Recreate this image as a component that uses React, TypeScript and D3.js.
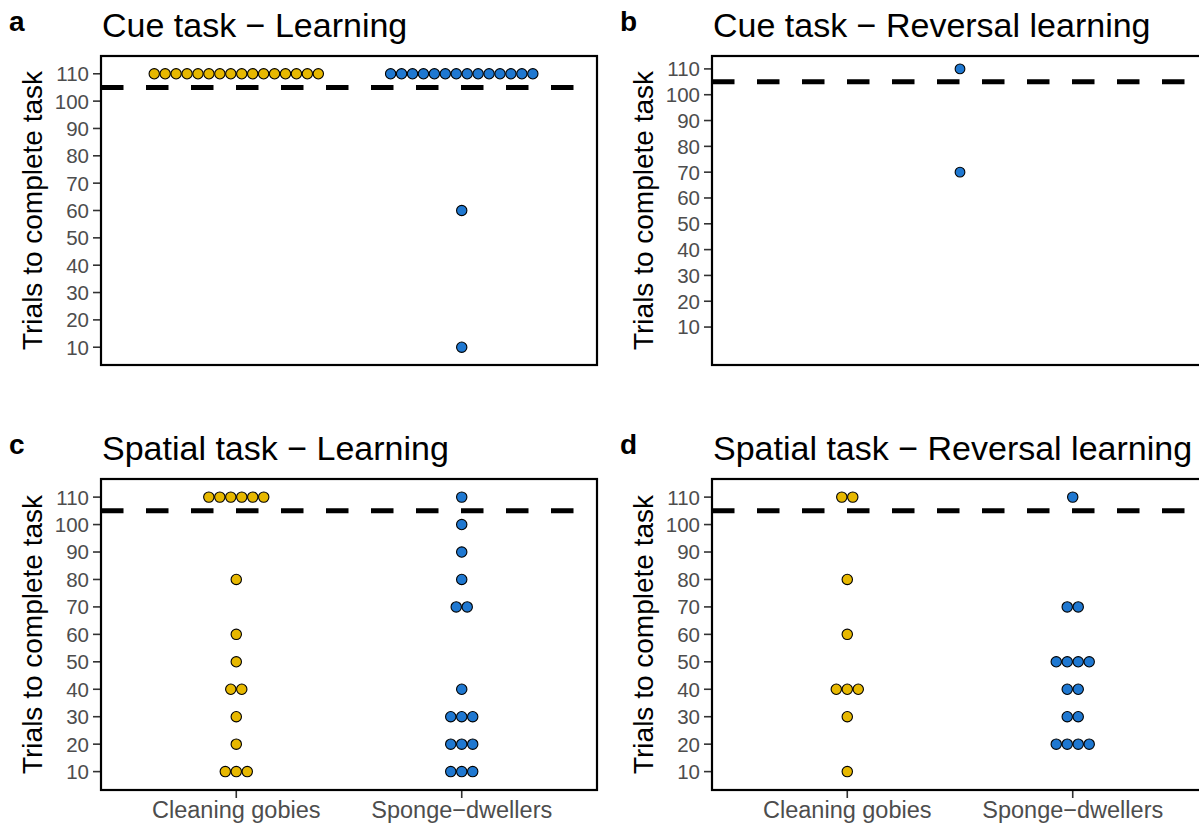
import React from "react";
import * as d3 from "d3";

const categories = ["Cleaning gobies", "Sponge\u2212dwellers"];
const yTicks = [10, 20, 30, 40, 50, 60, 70, 80, 90, 100, 110];
const threshold = 105;
const yTitle = "Trials to complete task";

const cueLearningGobies = [110, 110, 110, 110, 110, 110, 110, 110, 110, 110, 110, 110, 110, 110, 110, 110];
const cueLearningSponge = [110, 110, 110, 110, 110, 110, 110, 110, 110, 110, 110, 110, 110, 110, 60, 10];
const cueReversalGobies: number[] = [];
const cueReversalSponge = [110, 70];
const spatialLearningGobies = [110, 110, 110, 110, 110, 110, 80, 60, 50, 40, 40, 30, 20, 10, 10, 10];
const spatialLearningSponge = [110, 100, 90, 80, 70, 70, 40, 30, 30, 30, 20, 20, 20, 10, 10, 10];
const spatialReversalGobies = [110, 110, 80, 60, 40, 40, 40, 30, 10];
const spatialReversalSponge = [110, 70, 70, 50, 50, 50, 50, 40, 40, 30, 30, 20, 20, 20, 20];

const colors = ["#E7B800", "#1F78D1"];
const FONT = "'Liberation Sans', Arial, Helvetica, sans-serif";

type PanelProps = {
  letter: string;
  title: string;
  groups: number[][];
  left: number;
  top: number;
  width: number;
  height: number;
  yDomain: [number, number];
  showX: boolean;
};

const binwidth = 4;

function Panel({ letter, title, groups, left, top, width, height, yDomain, showX }: PanelProps) {
  // only categories that have data are placed on the discrete axis (expansion 0.6 units each side)
  const present = categories.filter((_, i) => groups[i].length > 0);
  const n = present.length;
  const span = n - 1 + 1.2;
  const xPos = d3
    .scalePoint<string>()
    .domain(present)
    .range(n > 1 ? [(width * 0.6) / span, (width * (n - 1 + 0.6)) / span] : [width / 2, width / 2]);
  const y = d3.scaleLinear().domain(yDomain).range([height, 0]);
  const dia = Math.abs(y(0) - y(binwidth));
  const dots: { cx: number; cy: number; fill: string }[] = [];
  groups.forEach((vals, gi) => {
    if (!vals.length) return;
    const counts = d3.rollup(vals, (v) => v.length, (d) => d);
    counts.forEach((cnt, val) => {
      for (let i = 0; i < cnt; i++) {
        dots.push({
          cx: (xPos(categories[gi]) as number) + (i - (cnt - 1) / 2) * dia,
          cy: y(val),
          fill: colors[gi],
        });
      }
    });
  });
  return (
    <g>
      <text x={left - 92} y={top - 25} fontFamily={FONT} fontWeight="bold" fontSize={28} fill="#000">
        {letter}
      </text>
      <text x={left + 1} y={top - 19} fontFamily={FONT} fontSize={34} fill="#000">
        {title}
      </text>
      <text
        transform={`translate(${left - 59},${top + height / 2}) rotate(-90)`}
        textAnchor="middle"
        fontFamily={FONT}
        fontSize={28}
        fill="#000"
      >
        {yTitle}
      </text>
      <g transform={`translate(${left},${top})`}>
        {yTicks.map((t) => (
          <g key={t} transform={`translate(0,${y(t)})`}>
            <line x1={-8} x2={0} stroke="#333" strokeWidth={1.6} />
            <text x={-12} dy="0.36em" textAnchor="end" fontFamily={FONT} fontSize={20.5} fill="#4D4D4D">
              {t}
            </text>
          </g>
        ))}
        {showX &&
          present.map((c) => (
            <g key={c} transform={`translate(${xPos(c)},${height})`}>
              <line y1={0} y2={8} stroke="#333" strokeWidth={1.6} />
              <text y={28} textAnchor="middle" fontFamily={FONT} fontSize={23.5} fill="#4D4D4D">
                {c}
              </text>
            </g>
          ))}
        <line
          x1={0}
          x2={width}
          y1={y(threshold)}
          y2={y(threshold)}
          stroke="#000"
          strokeWidth={5}
          strokeDasharray="22.5 22.5"
        />
        {dots.map((d, i) => (
          <circle key={i} cx={d.cx} cy={d.cy} r={dia / 2 - 0.3} fill={d.fill} stroke="#000" strokeWidth={1.1} />
        ))}
        <rect x={0} y={0} width={width} height={height} fill="none" stroke="#000" strokeWidth={2.2} />
      </g>
    </g>
  );
}

export default function App() {
  const W = 496;
  return (
    <svg
      width={1199}
      height={826}
      style={{ position: "absolute", left: 0, top: 0, background: "#fff" }}
      viewBox="0 0 1199 826"
    >
      <rect width={1199} height={826} fill="#fff" />
      <Panel
        letter="a"
        title={"Cue task \u2212 Learning"}
        groups={[cueLearningGobies, cueLearningSponge]}
        left={101}
        top={56}
        width={W}
        height={309}
        yDomain={[3.5, 116.5]}
        showX={false}
      />
      <Panel
        letter="b"
        title={"Cue task \u2212 Reversal learning"}
        groups={[cueReversalGobies, cueReversalSponge]}
        left={712}
        top={56}
        width={W}
        height={309}
        yDomain={[-4.7, 115]}
        showX={false}
      />
      <Panel
        letter="c"
        title={"Spatial task \u2212 Learning"}
        groups={[spatialLearningGobies, spatialLearningSponge]}
        left={101}
        top={479}
        width={W}
        height={311}
        yDomain={[3.3, 116.6]}
        showX={true}
      />
      <Panel
        letter="d"
        title={"Spatial task \u2212 Reversal learning"}
        groups={[spatialReversalGobies, spatialReversalSponge]}
        left={712}
        top={479}
        width={W}
        height={311}
        yDomain={[3.3, 116.6]}
        showX={true}
      />
    </svg>
  );
}
